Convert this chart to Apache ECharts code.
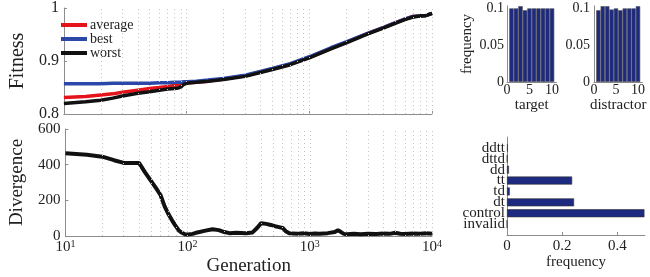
<!DOCTYPE html>
<html><head><meta charset="utf-8">
<script src="https://cdn.jsdelivr.net/npm/echarts@6/dist/echarts.min.js"></script>
<style>html,body{margin:0;padding:0;background:#fff}#c{width:650px;height:277px}</style>
</head><body><div id="c"></div>
<script>
// ---- data ----
const genFit = [10, 15, 20, 25, 30, 40, 50, 60, 70, 80, 85, 90, 95, 100, 120, 150, 200, 300, 500, 700, 1000, 1500, 2000, 3000, 4000, 5000, 6000, 7000, 8000, 9000, 10000];
const fitAverage = [0.831, 0.833, 0.836, 0.838, 0.841, 0.845, 0.848, 0.850, 0.852, 0.854, 0.855, 0.856, 0.858, 0.859, 0.860, 0.862, 0.866, 0.872, 0.885, 0.894, 0.907, 0.924, 0.935, 0.952, 0.963, 0.972, 0.979, 0.984, 0.985, 0.986, 0.990];
const fitBest = [0.857, 0.857, 0.857, 0.858, 0.858, 0.858, 0.858, 0.859, 0.859, 0.860, 0.860, 0.860, 0.861, 0.861, 0.862, 0.864, 0.867, 0.873, 0.886, 0.895, 0.908, 0.925, 0.936, 0.952, 0.963, 0.972, 0.979, 0.984, 0.985, 0.986, 0.990];
const fitWorst = [0.820, 0.823, 0.826, 0.830, 0.834, 0.839, 0.842, 0.845, 0.847, 0.848, 0.849, 0.851, 0.856, 0.858, 0.860, 0.862, 0.865, 0.871, 0.884, 0.893, 0.906, 0.923, 0.934, 0.951, 0.962, 0.971, 0.978, 0.983, 0.985, 0.986, 0.990];

const genDiv = [10, 15, 20, 25, 30, 35, 40, 45, 50, 55, 60, 65, 70, 75, 80, 85, 90, 95, 100, 110, 120, 140, 160, 180, 200, 220, 250, 300, 340, 370, 400, 440, 480, 520, 560, 600, 640, 680, 720, 800, 900, 1000, 1100, 1200, 1400, 1600, 1700, 1800, 1900, 2000, 2300, 2600, 3000, 3500, 4000, 4500, 5000, 5500, 6000, 7000, 8000, 9000, 10000];
const divergence = [464, 455, 445, 425, 410, 410, 410, 355, 310, 270, 230, 165, 120, 85, 55, 30, 18, 10, 8, 12, 20, 30, 38, 33, 22, 16, 18, 16, 20, 45, 72, 68, 62, 55, 50, 45, 25, 15, 14, 12, 15, 11, 14, 12, 16, 22, 32, 22, 12, 10, 12, 10, 13, 11, 14, 12, 18, 13, 11, 14, 12, 16, 13];

const gridGen = [20, 30, 40, 50, 60, 70, 80, 90, 100, 200, 300, 400, 500, 600, 700, 800, 900, 1000, 2000, 3000, 4000, 5000, 6000, 7000, 8000, 9000, 10000];

const histCats = ['0', '1', '2', '3', '4', '5', '6', '7', '8', '9', '10', '11'];
const histTarget = [null, 0.0995, 0.0995, 0.1025, 0.097, 0.0995, 0.0995, 0.0995, 0.0995, 0.0995, 0.0995, null];
const histDistractor = [null, 0.097, 0.1025, 0.1025, 0.098, 0.0995, 0.097, 0.0995, 0.0995, 0.0995, 0.1025, null];
const histTickLabels = ['0', '5', '10'];

const typeCats = ['', 'invalid', 'control', 'dt', 'td', 'tt', 'dd', 'dttd', 'ddtt', ''];
const typeFreq = [null, 0, 0.498, 0.243, 0.010, 0.236, 0.007, 0.001, 0.003, null];

// ---- chart ----
const FONT = 'Liberation Serif';
const TXT = '#222';
const AX = '#8c8c8c';
const NAVY = '#1d2a80';
const chart = echarts.init(document.getElementById('c'), null, {renderer: 'canvas'});

const axLine = {show: true, lineStyle: {color: AX, width: 1}};
const tickIn = {show: true, inside: true, length: 3, lineStyle: {color: AX}};
const supLabel = v => '{a|10}{b|' + Math.round(Math.log10(v)) + '}';
const gridMark = {silent: true, symbol: 'none', label: {show: false},
  lineStyle: {type: [1, 3], color: '#c4c4c4', width: 1}, data: gridGen.map(g => ({xAxis: g}))};

const option = {
  animation: false,
  textStyle: {fontFamily: FONT, color: TXT},
  grid: [
    {left: 48, top: 6, width: 384, height: 108},
    {left: 48, top: 129, width: 384, height: 107},
    {left: 507, top: 5.8, width: 49.5, height: 76.2},
    {left: 594, top: 5.8, width: 48.4, height: 76.2},
    {left: 507, top: 137, width: 138, height: 98}
  ],
  legend: {
    data: ['average', 'best', 'worst'],
    orient: 'vertical', left: 56, top: 13,
    icon: 'rect', itemWidth: 26, itemHeight: 4, itemGap: 0,
    textStyle: {fontFamily: FONT, fontSize: 14, color: TXT, padding: [0, 0, 0, -2]}
  },
  xAxis: [
    {gridIndex: 0, type: 'log', logBase: 10, min: 10, max: 10000, axisLine: axLine, axisTick: tickIn,
     axisLabel: {show: false}, splitLine: {show: false}},
    {gridIndex: 1, type: 'log', logBase: 10, min: 10, max: 10000, axisLine: axLine, axisTick: tickIn,
     splitLine: {show: false},
     name: 'Generation', nameLocation: 'middle', nameGap: 21,
     nameTextStyle: {fontFamily: FONT, fontSize: 19, color: TXT},
     axisLabel: {margin: 3, formatter: supLabel, color: TXT,
       rich: {a: {fontFamily: FONT, fontSize: 15, color: TXT, lineHeight: 17},
              b: {fontFamily: FONT, fontSize: 10, color: TXT, verticalAlign: 'top', lineHeight: 10}}}},
    {gridIndex: 2, type: 'category', data: histCats, boundaryGap: false, axisLine: axLine, axisTick: {show: false},
     axisLabel: {interval: (i, v) => histTickLabels.indexOf(v) >= 0, formatter: v => histTickLabels.indexOf(v) >= 0 ? v : '',
       fontFamily: FONT, fontSize: 14, color: TXT, margin: 1},
     name: 'target', nameLocation: 'middle', nameGap: 9, nameTextStyle: {fontFamily: FONT, fontSize: 15, color: TXT}},
    {gridIndex: 3, type: 'category', data: histCats, boundaryGap: false, axisLine: axLine, axisTick: {show: false},
     axisLabel: {interval: (i, v) => histTickLabels.indexOf(v) >= 0, formatter: v => histTickLabels.indexOf(v) >= 0 ? v : '',
       fontFamily: FONT, fontSize: 14, color: TXT, margin: 1},
     name: 'distractor', nameLocation: 'middle', nameGap: 9, nameTextStyle: {fontFamily: FONT, fontSize: 15, color: TXT}},
    {gridIndex: 4, type: 'value', min: 0, max: 0.5, interval: 0.2, axisLine: axLine, axisTick: tickIn,
     splitLine: {show: false},
     axisLabel: {fontFamily: FONT, fontSize: 15, color: TXT, margin: 4, showMaxLabel: false,
       formatter: v => (v === 0 ? '0' : v.toFixed(1))},
     name: 'frequency', nameLocation: 'middle', nameGap: 15, nameTextStyle: {fontFamily: FONT, fontSize: 15, color: TXT}}
  ],
  yAxis: [
    {gridIndex: 0, type: 'value', min: 0.8, max: 1, interval: 0.1, axisLine: axLine, axisTick: tickIn,
     splitLine: {show: false},
     axisLabel: {fontFamily: FONT, fontSize: 16, color: TXT, margin: 5, formatter: v => (v === 1 ? '1' : v.toFixed(1))},
     name: 'Fitness', nameLocation: 'middle', nameGap: 20, nameRotate: 90,
     nameTextStyle: {fontFamily: FONT, fontSize: 20, color: TXT}},
    {gridIndex: 1, type: 'value', min: 0, max: 600, interval: 200, axisLine: axLine, axisTick: tickIn,
     splitLine: {show: false},
     axisLabel: {fontFamily: FONT, fontSize: 15, color: TXT, margin: 5},
     name: 'Divergence', nameLocation: 'middle', nameGap: 28, nameRotate: 90,
     nameTextStyle: {fontFamily: FONT, fontSize: 19, color: TXT}},
    {gridIndex: 2, type: 'value', min: 0, max: 0.103, interval: 0.05, axisLine: axLine, axisTick: {show: false},
     splitLine: {show: false},
     axisLabel: {fontFamily: FONT, fontSize: 14, color: TXT, margin: 3, showMaxLabel: false,
       formatter: v => (v === 0 ? '0' : String(+v.toFixed(2)))},
     name: 'frequency', nameLocation: 'middle', nameGap: 32, nameRotate: 90,
     nameTextStyle: {fontFamily: FONT, fontSize: 15, color: TXT}},
    {gridIndex: 3, type: 'value', min: 0, max: 0.103, interval: 0.05, axisLine: axLine, axisTick: {show: false},
     splitLine: {show: false},
     axisLabel: {fontFamily: FONT, fontSize: 14, color: TXT, margin: 4, showMaxLabel: false,
       formatter: v => (v === 0 ? '0' : String(+v.toFixed(2)))}},
    {gridIndex: 4, type: 'category', data: typeCats, boundaryGap: false, axisLine: axLine, axisTick: {show: false},
     axisLabel: {interval: 0, fontFamily: FONT, fontSize: 15, color: TXT, margin: 2, lineHeight: 11}}
  ],
  series: [
    {name: 'average', type: 'line', xAxisIndex: 0, yAxisIndex: 0, showSymbol: false, color: '#e5141b',
     lineStyle: {width: 3.5, color: '#e5141b'}, data: genFit.map((g, i) => [g, fitAverage[i]]), markLine: gridMark},
    {name: 'best', type: 'line', xAxisIndex: 0, yAxisIndex: 0, showSymbol: false, color: '#2b48a8',
     lineStyle: {width: 3.5, color: '#2b48a8'}, data: genFit.map((g, i) => [g, fitBest[i]])},
    {name: 'worst', type: 'line', xAxisIndex: 0, yAxisIndex: 0, showSymbol: false, color: '#111111',
     lineStyle: {width: 3.5, color: '#111111'}, data: genFit.map((g, i) => [g, fitWorst[i]])},
    {name: 'divergence', type: 'line', xAxisIndex: 1, yAxisIndex: 1, showSymbol: false, color: '#111111',
     lineStyle: {width: 4, color: '#111111'}, data: genDiv.map((g, i) => [g, divergence[i]]), markLine: gridMark},
    {name: 'target', type: 'bar', xAxisIndex: 2, yAxisIndex: 2, data: histTarget, barCategoryGap: '0%', clip: false,
     itemStyle: {color: NAVY, borderColor: '#555', borderWidth: 0.6}},
    {name: 'distractor', type: 'bar', xAxisIndex: 3, yAxisIndex: 3, data: histDistractor, barCategoryGap: '0%', clip: false,
     itemStyle: {color: NAVY, borderColor: '#555', borderWidth: 0.6}},
    {name: 'types', type: 'bar', xAxisIndex: 4, yAxisIndex: 4, data: typeFreq, barWidth: 8,
     itemStyle: {color: NAVY, borderColor: '#333', borderWidth: 0.6}}
  ]
};
chart.setOption(option);
</script></body></html>
